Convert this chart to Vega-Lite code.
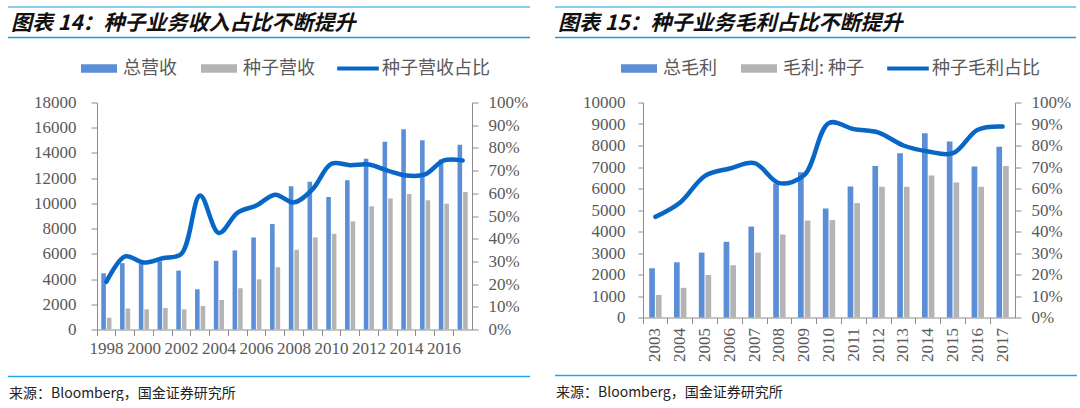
{
  "$schema": "https://vega.github.io/schema/vega-lite/v6.json",
  "padding": {"left": 7, "top": 6, "right": 0, "bottom": 0},
  "background": "white",
  "config": {
    "view": {"stroke": null},
    "axis": {
      "labelFont": "Liberation Serif",
      "labelFontSize": 17,
      "labelColor": "#595959",
      "domainColor": "#8c8c8c",
      "tickColor": "#8c8c8c",
      "grid": false
    },
    "legend": {
      "labelFont": "Noto Sans CJK SC",
      "labelFontSize": 18,
      "labelColor": "#595959",
      "symbolSize": 1600,
      "labelOffset": 4,
      "columnPadding": 22,
      "padding": 0
    },
    "title": {
      "font": "Noto Sans CJK SC",
      "color": "#111111"
    }
  },
  "datasets": {
    "edge": [{"edge": "top"}],
    "revBars": [
      {"year": "1998", "series": "总营收", "value": 4460}, {"year": "1998", "series": "种子营收", "value": 930},
      {"year": "1999", "series": "总营收", "value": 5260}, {"year": "1999", "series": "种子营收", "value": 1670},
      {"year": "2000", "series": "总营收", "value": 5250}, {"year": "2000", "series": "种子营收", "value": 1600},
      {"year": "2001", "series": "总营收", "value": 5400}, {"year": "2001", "series": "种子营收", "value": 1700},
      {"year": "2002", "series": "总营收", "value": 4670}, {"year": "2002", "series": "种子营收", "value": 1600},
      {"year": "2003", "series": "总营收", "value": 3190}, {"year": "2003", "series": "种子营收", "value": 1860},
      {"year": "2004", "series": "总营收", "value": 5440}, {"year": "2004", "series": "种子营收", "value": 2340},
      {"year": "2005", "series": "总营收", "value": 6270}, {"year": "2005", "series": "种子营收", "value": 3270},
      {"year": "2006", "series": "总营收", "value": 7300}, {"year": "2006", "series": "种子营收", "value": 3980},
      {"year": "2007", "series": "总营收", "value": 8360}, {"year": "2007", "series": "种子营收", "value": 4940},
      {"year": "2008", "series": "总营收", "value": 11360}, {"year": "2008", "series": "种子营收", "value": 6320},
      {"year": "2009", "series": "总营收", "value": 11710}, {"year": "2009", "series": "种子营收", "value": 7300},
      {"year": "2010", "series": "总营收", "value": 10510}, {"year": "2010", "series": "种子营收", "value": 7590},
      {"year": "2011", "series": "总营收", "value": 11840}, {"year": "2011", "series": "种子营收", "value": 8570},
      {"year": "2012", "series": "总营收", "value": 13540}, {"year": "2012", "series": "种子营收", "value": 9770},
      {"year": "2013", "series": "总营收", "value": 14890}, {"year": "2013", "series": "种子营收", "value": 10380},
      {"year": "2014", "series": "总营收", "value": 15870}, {"year": "2014", "series": "种子营收", "value": 10750},
      {"year": "2015", "series": "总营收", "value": 15000}, {"year": "2015", "series": "种子营收", "value": 10250},
      {"year": "2016", "series": "总营收", "value": 13490}, {"year": "2016", "series": "种子营收", "value": 9980},
      {"year": "2017", "series": "总营收", "value": 14650}, {"year": "2017", "series": "种子营收", "value": 10910}
    ],
    "revShare": [
      {"year": "1998", "share": 0.21}, {"year": "1999", "share": 0.322}, {"year": "2000", "share": 0.295},
      {"year": "2001", "share": 0.314}, {"year": "2002", "share": 0.333}, {"year": "2003", "share": 0.59},
      {"year": "2004", "share": 0.425}, {"year": "2005", "share": 0.515}, {"year": "2006", "share": 0.546},
      {"year": "2007", "share": 0.594}, {"year": "2008", "share": 0.56}, {"year": "2009", "share": 0.618},
      {"year": "2010", "share": 0.73}, {"year": "2011", "share": 0.724}, {"year": "2012", "share": 0.727},
      {"year": "2013", "share": 0.70}, {"year": "2014", "share": 0.678}, {"year": "2015", "share": 0.683},
      {"year": "2016", "share": 0.745}, {"year": "2017", "share": 0.745}
    ],
    "gpBars": [
      {"year": "2003", "series": "总毛利", "value": 2290}, {"year": "2003", "series": "毛利: 种子", "value": 1050},
      {"year": "2004", "series": "总毛利", "value": 2570}, {"year": "2004", "series": "毛利: 种子", "value": 1380},
      {"year": "2005", "series": "总毛利", "value": 3020}, {"year": "2005", "series": "毛利: 种子", "value": 1980},
      {"year": "2006", "series": "总毛利", "value": 3520}, {"year": "2006", "series": "毛利: 种子", "value": 2430},
      {"year": "2007", "series": "总毛利", "value": 4230}, {"year": "2007", "series": "毛利: 种子", "value": 3020},
      {"year": "2008", "series": "总毛利", "value": 6230}, {"year": "2008", "series": "毛利: 种子", "value": 3860},
      {"year": "2009", "series": "总毛利", "value": 6760}, {"year": "2009", "series": "毛利: 种子", "value": 4510},
      {"year": "2010", "series": "总毛利", "value": 5070}, {"year": "2010", "series": "毛利: 种子", "value": 4530},
      {"year": "2011", "series": "总毛利", "value": 6090}, {"year": "2011", "series": "毛利: 种子", "value": 5320},
      {"year": "2012", "series": "总毛利", "value": 7050}, {"year": "2012", "series": "毛利: 种子", "value": 6080},
      {"year": "2013", "series": "总毛利", "value": 7640}, {"year": "2013", "series": "毛利: 种子", "value": 6080},
      {"year": "2014", "series": "总毛利", "value": 8570}, {"year": "2014", "series": "毛利: 种子", "value": 6600},
      {"year": "2015", "series": "总毛利", "value": 8190}, {"year": "2015", "series": "毛利: 种子", "value": 6280},
      {"year": "2016", "series": "总毛利", "value": 7020}, {"year": "2016", "series": "毛利: 种子", "value": 6080},
      {"year": "2017", "series": "总毛利", "value": 7940}, {"year": "2017", "series": "毛利: 种子", "value": 7050}
    ],
    "gpShare": [
      {"year": "2003", "share": 0.468}, {"year": "2004", "share": 0.535}, {"year": "2005", "share": 0.659},
      {"year": "2006", "share": 0.693}, {"year": "2007", "share": 0.718}, {"year": "2008", "share": 0.625},
      {"year": "2009", "share": 0.662}, {"year": "2010", "share": 0.905}, {"year": "2011", "share": 0.876},
      {"year": "2012", "share": 0.86}, {"year": "2013", "share": 0.80}, {"year": "2014", "share": 0.772},
      {"year": "2015", "share": 0.764}, {"year": "2016", "share": 0.873}, {"year": "2017", "share": 0.888}
    ]
  },
  "spacing": 23,
  "resolve": {"scale": {"x": "independent", "y": "independent", "color": "independent", "xOffset": "independent"}},
  "hconcat": [
    {
      "spacing": 2.5,
      "resolve": {"scale": {"x": "independent", "y": "independent", "color": "independent", "xOffset": "independent"}},
      "vconcat": [
        {
          "width": 522,
          "height": 1,
          "data": {"name": "edge"},
          "title": {
            "text": "图表 14：种子业务收入占比不断提升",
            "orient": "bottom",
            "anchor": "start",
            "frame": "group",
            "baseline": "top",
            "offset": 4.5,
            "dx": 3,
            "fontSize": 21,
            "fontWeight": "bold",
            "fontStyle": "italic"
          },
          "mark": {"type": "rule", "strokeWidth": 1.6, "color": "#5dbdec"},
          "encoding": {
            "y": {"field": "edge", "type": "nominal", "scale": {"type": "point", "padding": 0, "domain": ["top", "bottom"]}, "axis": null}
          }
        },
        {
          "spacing": 10,
          "resolve": {"scale": {"x": "independent", "y": "independent", "color": "independent", "xOffset": "independent"}},
          "vconcat": [
            {
              "width": 522,
              "height": 1,
              "data": {"name": "edge"},
              "mark": {"type": "rule", "strokeWidth": 1.6, "color": "#1a9bd7"},
              "encoding": {
                "y": {"field": "edge", "type": "nominal", "scale": {"type": "point", "padding": 0, "domain": ["top", "bottom"]}, "axis": null}
              }
            },
            {
              "spacing": 19,
              "resolve": {"scale": {"x": "independent", "y": "independent", "color": "independent", "xOffset": "independent"}},
              "vconcat": [
                {
                  "spacing": 0,
                  "resolve": {"scale": {"x": "independent", "y": "independent", "color": "independent", "xOffset": "independent"}},
                  "hconcat": [
                    {"width": 24.5, "height": 10, "data": {"values": []}, "mark": "point", "encoding": {}},
                    {
                      "width": 375,
                      "height": 227,
                      "encoding": {
                        "x": {
                          "field": "year",
                          "type": "nominal",
                          "scale": {"paddingInner": 0, "paddingOuter": 0},
                          "axis": {
                            "title": null,
                            "labelAngle": 0,
                            "bandPosition": 0,
                            "tickSize": 6,
                            "labelPadding": 5,
                            "labelOverlap": false,
                            "labelExpr": "toNumber(datum.value) % 2 === 0 ? datum.value : ''"
                          }
                        }
                      },
                      "layer": [
                        {
                          "data": {"name": "revBars"},
                          "mark": {"type": "bar"},
                          "encoding": {
                            "xOffset": {"field": "series", "type": "nominal", "sort": ["总营收", "种子营收"], "scale": {"paddingInner": 0.18, "paddingOuter": 0.77}},
                            "y": {
                              "field": "value",
                              "type": "quantitative",
                              "scale": {"domain": [0, 18000]},
                              "axis": {"title": null, "format": "d", "values": [0, 2000, 4000, 6000, 8000, 10000, 12000, 14000, 16000, 18000], "tickSize": 6, "labelPadding": 15}
                            },
                            "color": {
                              "field": "series",
                              "type": "nominal",
                              "scale": {"domain": ["总营收", "种子营收", "种子营收占比"], "range": ["#5b8ed6", "#b4b4b4", "#0866c6"]},
                              "legend": {
                                "title": null,
                                "orient": "none",
                                "direction": "horizontal",
                                "legendX": -18,
                                "legendY": -54,
                                "symbolType": "M-0.9,-0.21H0.9V0.21H-0.9Z",
                                "encode": {
                                  "symbols": {
                                    "update": {
                                      "shape": {"signal": "indexof(datum.value, '占比') >= 0 ? 'M-1.04,-0.1H1.04V0.1H-1.04Z' : 'M-0.9,-0.21H0.9V0.21H-0.9Z'"},
                                      "fill": {"signal": "datum.value === '总营收' ? '#5b8ed6' : indexof(datum.value, '占比') >= 0 ? '#0866c6' : '#b4b4b4'"},
                                      "strokeWidth": {"value": 0},
                                      "opacity": {"value": 1}
                                    }
                                  }
                                }
                              }
                            }
                          }
                        },
                        {
                          "data": {"name": "revShare"},
                          "mark": {"type": "line", "strokeWidth": 4.5, "interpolate": "catmull-rom", "strokeCap": "round"},
                          "encoding": {
                            "y": {
                              "field": "share",
                              "type": "quantitative",
                              "scale": {"domain": [0, 1]},
                              "axis": {"title": null, "orient": "right", "format": ".0%", "values": [0, 0.1, 0.2, 0.3, 0.4, 0.5, 0.6, 0.7, 0.8, 0.9, 1], "tickSize": 6, "labelPadding": 10}
                            },
                            "color": {"datum": "种子营收占比"}
                          }
                        }
                      ],
                      "resolve": {"scale": {"y": "independent"}}
                    }
                  ]
                },
                {
                  "width": 522,
                  "height": 1,
                  "data": {"name": "edge"},
                  "title": {
                    "text": "来源：Bloomberg，国金证券研究所",
                    "orient": "bottom",
                    "anchor": "start",
                    "frame": "group",
                    "baseline": "top",
                    "offset": 9,
                    "dx": 1,
                    "fontSize": 14,
                    "fontWeight": "normal",
                    "color": "#222222"
                  },
                  "mark": {"type": "rule", "strokeWidth": 1.6, "color": "#22a7e6"},
                  "encoding": {
                    "y": {"field": "edge", "type": "nominal", "scale": {"type": "point", "padding": 0, "domain": ["top", "bottom"]}, "axis": null}
                  }
                }
              ]
            }
          ]
        }
      ]
    },
    {
      "spacing": 2.5,
      "resolve": {"scale": {"x": "independent", "y": "independent", "color": "independent", "xOffset": "independent"}},
      "vconcat": [
        {
          "width": 521,
          "height": 1,
          "data": {"name": "edge"},
          "title": {
            "text": "图表 15：种子业务毛利占比不断提升",
            "orient": "bottom",
            "anchor": "start",
            "frame": "group",
            "baseline": "top",
            "offset": 4.5,
            "dx": 3,
            "fontSize": 21,
            "fontWeight": "bold",
            "fontStyle": "italic"
          },
          "mark": {"type": "rule", "strokeWidth": 1.6, "color": "#5dbdec"},
          "encoding": {
            "y": {"field": "edge", "type": "nominal", "scale": {"type": "point", "padding": 0, "domain": ["top", "bottom"]}, "axis": null}
          }
        },
        {
          "spacing": 10,
          "resolve": {"scale": {"x": "independent", "y": "independent", "color": "independent", "xOffset": "independent"}},
          "vconcat": [
            {
              "width": 521,
              "height": 1,
              "data": {"name": "edge"},
              "mark": {"type": "rule", "strokeWidth": 1.6, "color": "#1a9bd7"},
              "encoding": {
                "y": {"field": "edge", "type": "nominal", "scale": {"type": "point", "padding": 0, "domain": ["top", "bottom"]}, "axis": null}
              }
            },
            {
              "spacing": 13,
              "resolve": {"scale": {"x": "independent", "y": "independent", "color": "independent", "xOffset": "independent"}},
              "vconcat": [
                {
                  "spacing": 0,
                  "resolve": {"scale": {"x": "independent", "y": "independent", "color": "independent", "xOffset": "independent"}},
                  "hconcat": [
                    {"width": 26.5, "height": 10, "data": {"values": []}, "mark": "point", "encoding": {}},
                    {
                      "width": 372,
                      "height": 215,
                      "encoding": {
                        "x": {
                          "field": "year",
                          "type": "nominal",
                          "scale": {"paddingInner": 0, "paddingOuter": 0},
                          "axis": {
                            "title": null,
                            "labelAngle": -90,
                            "bandPosition": 0,
                            "tickSize": 6,
                            "labelPadding": 4,
                            "labelOverlap": false
                          }
                        }
                      },
                      "layer": [
                        {
                          "data": {"name": "gpBars"},
                          "mark": {"type": "bar"},
                          "encoding": {
                            "xOffset": {"field": "series", "type": "nominal", "sort": ["总毛利", "毛利: 种子"], "scale": {"paddingInner": 0.15, "paddingOuter": 0.93}},
                            "y": {
                              "field": "value",
                              "type": "quantitative",
                              "scale": {"domain": [0, 10000]},
                              "axis": {"title": null, "format": "d", "values": [0, 1000, 2000, 3000, 4000, 5000, 6000, 7000, 8000, 9000, 10000], "tickSize": 5, "labelPadding": 13}
                            },
                            "color": {
                              "field": "series",
                              "type": "nominal",
                              "scale": {"domain": ["总毛利", "毛利: 种子", "种子毛利占比"], "range": ["#5b8ed6", "#b4b4b4", "#0866c6"]},
                              "legend": {
                                "title": null,
                                "orient": "none",
                                "direction": "horizontal",
                                "legendX": -24,
                                "legendY": -54,
                                "symbolType": "M-0.9,-0.21H0.9V0.21H-0.9Z",
                                "encode": {
                                  "symbols": {
                                    "update": {
                                      "shape": {"signal": "indexof(datum.value, '占比') >= 0 ? 'M-1.04,-0.1H1.04V0.1H-1.04Z' : 'M-0.9,-0.21H0.9V0.21H-0.9Z'"},
                                      "fill": {"signal": "datum.value === '总毛利' ? '#5b8ed6' : indexof(datum.value, '占比') >= 0 ? '#0866c6' : '#b4b4b4'"},
                                      "strokeWidth": {"value": 0},
                                      "opacity": {"value": 1}
                                    }
                                  }
                                }
                              }
                            }
                          }
                        },
                        {
                          "data": {"name": "gpShare"},
                          "mark": {"type": "line", "strokeWidth": 4.5, "interpolate": "catmull-rom", "strokeCap": "round"},
                          "encoding": {
                            "y": {
                              "field": "share",
                              "type": "quantitative",
                              "scale": {"domain": [0, 1]},
                              "axis": {"title": null, "orient": "right", "format": ".0%", "values": [0, 0.1, 0.2, 0.3, 0.4, 0.5, 0.6, 0.7, 0.8, 0.9, 1], "tickSize": 6, "labelPadding": 10}
                            },
                            "color": {"datum": "种子毛利占比"}
                          }
                        }
                      ],
                      "resolve": {"scale": {"y": "independent"}}
                    }
                  ]
                },
                {
                  "width": 522,
                  "height": 1,
                  "data": {"name": "edge"},
                  "title": {
                    "text": "来源：Bloomberg，国金证券研究所",
                    "orient": "bottom",
                    "anchor": "start",
                    "frame": "group",
                    "baseline": "top",
                    "offset": 9,
                    "dx": 1,
                    "fontSize": 14,
                    "fontWeight": "normal",
                    "color": "#222222"
                  },
                  "mark": {"type": "rule", "strokeWidth": 1.6, "color": "#22a7e6"},
                  "encoding": {
                    "y": {"field": "edge", "type": "nominal", "scale": {"type": "point", "padding": 0, "domain": ["top", "bottom"]}, "axis": null}
                  }
                }
              ]
            }
          ]
        }
      ]
    }
  ]
}
